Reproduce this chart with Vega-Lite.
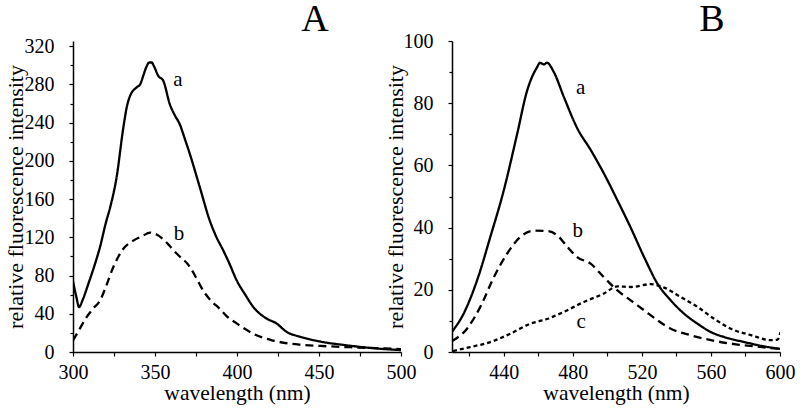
{
  "$schema": "https://vega.github.io/schema/vega-lite/v6.json",
  "background": "white",
  "autosize": {"type": "none"},
  "padding": {"left": 73, "top": 41, "right": 727, "bottom": 371},
  "config": {
    "view": {"stroke": null},
    "font": "Liberation Serif",
    "axis": {
      "grid": false, "domainColor": "black", "domainWidth": 1.5, "tickColor": "black", "tickWidth": 1.2, "tickSize": 4,
      "labelFont": "Liberation Serif", "labelFontSize": 20, "labelColor": "black", "labelFlush": false,
      "titleFont": "Liberation Serif", "titleFontSize": 21.5, "titleFontWeight": "normal", "titleColor": "black"
    }
  },
  "datasets": {
    "A": [
      {"series":"a","wl":300,"v":74},{"series":"a","wl":302,"v":58},{"series":"a","wl":303.7,"v":47},{"series":"a","wl":306,"v":55},{"series":"a","wl":309.3,"v":71},{"series":"a","wl":313,"v":90},{"series":"a","wl":316.5,"v":110},{"series":"a","wl":320,"v":135},{"series":"a","wl":322.6,"v":151},{"series":"a","wl":326.6,"v":183},{"series":"a","wl":330.7,"v":235},{"series":"a","wl":333,"v":258},{"series":"a","wl":334.8,"v":268},{"series":"a","wl":338.8,"v":277},{"series":"a","wl":340.9,"v":280},{"series":"a","wl":343,"v":290},{"series":"a","wl":344.9,"v":299},{"series":"a","wl":346.5,"v":303},{"series":"a","wl":348,"v":303},{"series":"a","wl":349.4,"v":299},{"series":"a","wl":352,"v":289},{"series":"a","wl":355,"v":284},{"series":"a","wl":359.1,"v":259},{"series":"a","wl":362,"v":248},{"series":"a","wl":365.2,"v":238},{"series":"a","wl":368,"v":224},{"series":"a","wl":371.3,"v":207},{"series":"a","wl":377.4,"v":172},{"series":"a","wl":383.5,"v":137},{"series":"a","wl":387,"v":122},{"series":"a","wl":391.7,"v":106},{"series":"a","wl":395,"v":94},{"series":"a","wl":399.8,"v":75},{"series":"a","wl":405,"v":60},{"series":"a","wl":410,"v":47},{"series":"a","wl":418,"v":35},{"series":"a","wl":424,"v":30},{"series":"a","wl":430.3,"v":21},{"series":"a","wl":438.4,"v":16},{"series":"a","wl":450.6,"v":11},{"series":"a","wl":466.9,"v":7},{"series":"a","wl":483,"v":4},{"series":"a","wl":500,"v":2},
      {"series":"b","wl":300,"v":12},{"series":"b","wl":304,"v":24},{"series":"b","wl":308.3,"v":36.5},{"series":"b","wl":312,"v":45},{"series":"b","wl":316.5,"v":54},{"series":"b","wl":320,"v":68},{"series":"b","wl":324.6,"v":89},{"series":"b","wl":330.7,"v":108},{"series":"b","wl":336.8,"v":116.6},{"series":"b","wl":342,"v":121},{"series":"b","wl":347,"v":125},{"series":"b","wl":351,"v":123},{"series":"b","wl":355,"v":118},{"series":"b","wl":359,"v":111},{"series":"b","wl":363.2,"v":103},{"series":"b","wl":371.3,"v":89},{"series":"b","wl":375,"v":78},{"series":"b","wl":379.5,"v":64},{"series":"b","wl":384,"v":54},{"series":"b","wl":389.6,"v":45},{"series":"b","wl":394,"v":37},{"series":"b","wl":399.8,"v":30},{"series":"b","wl":405,"v":24},{"series":"b","wl":410,"v":19},{"series":"b","wl":422,"v":12},{"series":"b","wl":438,"v":7.7},{"series":"b","wl":455,"v":6},{"series":"b","wl":469,"v":5},{"series":"b","wl":485,"v":4},{"series":"b","wl":500,"v":3}
    ],
    "B": [
      {"series":"a","wl":410,"v":6.5},{"series":"a","wl":416.7,"v":12.3},{"series":"a","wl":424.5,"v":23},{"series":"a","wl":432.2,"v":37},{"series":"a","wl":440,"v":52},{"series":"a","wl":447.7,"v":70},{"series":"a","wl":453.5,"v":84},{"series":"a","wl":459.3,"v":91.6},{"series":"a","wl":461,"v":93},{"series":"a","wl":463.2,"v":92.5},{"series":"a","wl":465,"v":93},{"series":"a","wl":469,"v":90},{"series":"a","wl":474.8,"v":82},{"series":"a","wl":482.5,"v":72},{"series":"a","wl":490.3,"v":65},{"series":"a","wl":498,"v":57.4},{"series":"a","wl":505.8,"v":48.8},{"series":"a","wl":513.5,"v":40},{"series":"a","wl":521.3,"v":30.5},{"series":"a","wl":529,"v":22},{"series":"a","wl":536.7,"v":16.6},{"series":"a","wl":544.5,"v":12.3},{"series":"a","wl":552.2,"v":9.1},{"series":"a","wl":560,"v":6.4},{"series":"a","wl":567.7,"v":4.8},{"series":"a","wl":579.3,"v":3.2},{"series":"a","wl":590.9,"v":1.8},{"series":"a","wl":600,"v":1},
      {"series":"b","wl":410,"v":3.5},{"series":"b","wl":418.7,"v":7.5},{"series":"b","wl":426.4,"v":14.5},{"series":"b","wl":434.2,"v":24},{"series":"b","wl":441.9,"v":31.6},{"series":"b","wl":449.6,"v":37},{"series":"b","wl":457.4,"v":39},{"series":"b","wl":465,"v":38.9},{"series":"b","wl":471,"v":37.5},{"series":"b","wl":476.8,"v":33.8},{"series":"b","wl":482.5,"v":30.5},{"series":"b","wl":490.3,"v":28.4},{"series":"b","wl":498,"v":24},{"series":"b","wl":505.8,"v":19.8},{"series":"b","wl":513.5,"v":16.6},{"series":"b","wl":521.3,"v":13.4},{"series":"b","wl":529,"v":10.2},{"series":"b","wl":536.7,"v":7.5},{"series":"b","wl":548.3,"v":5.4},{"series":"b","wl":560,"v":3.8},{"series":"b","wl":575.5,"v":2.4},{"series":"b","wl":587,"v":1.7},{"series":"b","wl":600,"v":1},
      {"series":"c","wl":410.6,"v":0.3},{"series":"c","wl":420.6,"v":1.6},{"series":"c","wl":432.2,"v":3.2},{"series":"c","wl":443.8,"v":5.9},{"series":"c","wl":455.4,"v":9.1},{"series":"c","wl":465,"v":10.6},{"series":"c","wl":474.8,"v":12.9},{"series":"c","wl":486.4,"v":16.1},{"series":"c","wl":498,"v":18.8},{"series":"c","wl":505.8,"v":21.1},{"series":"c","wl":513.5,"v":20.9},{"series":"c","wl":525.1,"v":21.8},{"series":"c","wl":532.9,"v":20.7},{"series":"c","wl":542.5,"v":17.7},{"series":"c","wl":552.2,"v":14.5},{"series":"c","wl":561.8,"v":10.7},{"series":"c","wl":571.5,"v":7.5},{"series":"c","wl":583.2,"v":5.4},{"series":"c","wl":594.8,"v":3.8},{"series":"c","wl":598.6,"v":4},{"series":"c","wl":600.3,"v":6.4}
    ],
    "labelsA": [{"t":"a","wl":364,"v":285},{"t":"b","wl":364.6,"v":124},{"t":"A","wl":447.6,"v":348}],
    "labelsB": [{"t":"a","wl":484.5,"v":84.8},{"t":"b","wl":482.9,"v":39},{"t":"c","wl":484.8,"v":9.6},{"t":"B","wl":560.5,"v":106.9}]
  },
  "hconcat": [
    {
      "width": 328, "height": 311,
      "resolve": {"axis": {"x": "independent", "y": "independent"}},
      "layer": [
        {
          "data": {"name": "A"},
          "mark": {"type": "line", "color": "black", "strokeWidth": 2.3, "clip": true, "interpolate": "monotone"},
          "encoding": {
            "x": {"field": "wl", "type": "quantitative", "scale": {"domain": [300, 500], "nice": false, "zero": false},
                  "axis": {"orient": "bottom", "title": "wavelength (nm)", "values": [300,350,400,450,500], "labelBaseline": "alphabetic", "labelPadding": 22.5, "titleBaseline": "alphabetic", "titleY": 47}},
            "y": {"field": "v", "type": "quantitative", "scale": {"domain": [0, 325.5], "nice": false},
                  "axis": {"orient": "left", "title": "relative fluorescence intensity", "titleFontSize": 22, "values": [0,40,80,120,160,200,240,280,320], "labelPadding": 15, "titleBaseline": "alphabetic", "titleX": -51}},
            "strokeDash": {"field": "series", "type": "nominal", "scale": {"domain": ["a","b","c"], "range": [[1,0],[8,5],[4,3]]}, "legend": null}
          }
        },
        {
          "data": {"name": "labelsA"},
          "mark": {"type": "text", "fontSize": 21, "font": "Liberation Serif", "color": "black", "align": "center", "baseline": "middle"},
          "encoding": {
            "x": {"field": "wl", "type": "quantitative", "axis": {"orient": "bottom", "values": [325,375,425,475], "labels": false, "domain": false, "title": null, "tickSize": 4}},
            "y": {"field": "v", "type": "quantitative", "axis": {"orient": "left", "values": [20,60,100,140,180,220,260,300], "labels": false, "domain": false, "title": null, "tickSize": 3}},
            "text": {"field": "t"},
            "size": {"condition": {"test": "datum.t === 'A'", "value": 38}, "value": 21}
          }
        }
      ]
    },
    {
      "width": 328, "height": 311,
      "resolve": {"axis": {"x": "independent", "y": "independent"}},
      "layer": [
        {
          "data": {"name": "B"},
          "mark": {"type": "line", "color": "black", "strokeWidth": 2.3, "clip": true, "interpolate": "monotone"},
          "encoding": {
            "x": {"field": "wl", "type": "quantitative", "scale": {"domain": [410, 600], "nice": false, "zero": false},
                  "axis": {"orient": "bottom", "title": "wavelength (nm)", "values": [440,480,520,560,600], "labelBaseline": "alphabetic", "labelPadding": 22.5, "titleBaseline": "alphabetic", "titleY": 47}},
            "y": {"field": "v", "type": "quantitative", "scale": {"domain": [0, 100], "nice": false},
                  "axis": {"orient": "left", "title": "relative fluorescence intensity", "titleFontSize": 22, "values": [0,20,40,60,80,100], "labelPadding": 15, "titleBaseline": "alphabetic", "titleX": -50}},
            "strokeDash": {"field": "series", "type": "nominal", "scale": {"domain": ["a","b","c"], "range": [[1,0],[8,5],[4,3]]}, "legend": null}
          }
        },
        {
          "data": {"name": "labelsB"},
          "mark": {"type": "text", "fontSize": 21, "font": "Liberation Serif", "color": "black", "align": "center", "baseline": "middle"},
          "encoding": {
            "x": {"field": "wl", "type": "quantitative", "axis": {"orient": "bottom", "values": [420,460,500,540,580], "labels": false, "domain": false, "title": null, "tickSize": 4}},
            "y": {"field": "v", "type": "quantitative", "axis": {"orient": "left", "values": [10,30,50,70,90], "labels": false, "domain": false, "title": null, "tickSize": 3}},
            "text": {"field": "t"},
            "size": {"condition": {"test": "datum.t === 'B'", "value": 38}, "value": 21}
          }
        }
      ]
    }
  ],
  "spacing": 51,
  "bounds": "flush"
}
